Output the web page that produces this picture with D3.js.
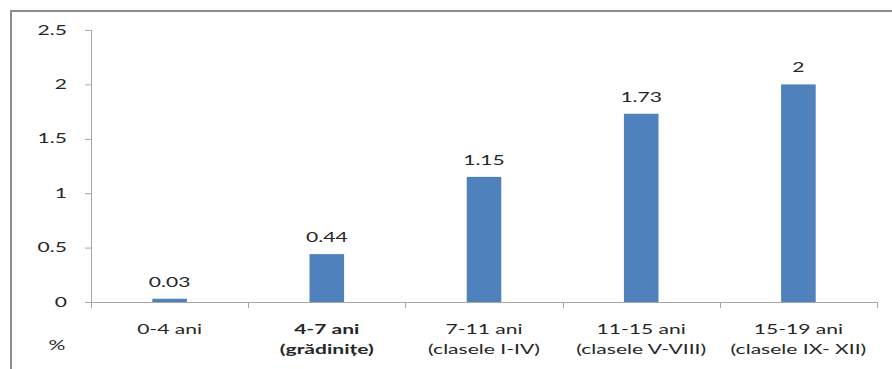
<!DOCTYPE html>
<html><head><meta charset="utf-8">
<script src="https://cdn.jsdelivr.net/npm/d3@7"></script>
<style>body{margin:0;background:#fff}svg{display:block}text{font-family:Lato,"Open Sans",sans-serif;fill:#262626}</style>
</head><body><svg id="c" width="892" height="369"></svg>
<script>
const categories = ["0-4 ani","4-7 ani","7-11 ani","11-15 ani","15-19 ani"];
const subLabels = ["","(grădinițe)","(clasele I-IV)","(clasele V-VIII)","(clasele IX- XII)"];
const boldCategory = [false,true,false,false,false];
const values = [0.03,0.44,1.15,1.73,2];
const valueLabels = ["0.03","0.44","1.15","1.73","2"];
const yTicks = [0,0.5,1,1.5,2,2.5];
const yTickLabels = ["0","0.5","1","1.5","2","2.5"];
const unitLabel = "%";

const SX = 1.62, FS = 13;
const svg = d3.select("#c");
function txt(g, x, y, s, anchor, bold){
  return g.append("text").attr("transform",`translate(${x},${y}) scale(${SX},1)`)
    .attr("text-anchor",anchor).attr("font-size",FS).attr("font-weight",bold?"bold":"normal").text(s);
}
// frame
svg.append("path").attr("d","M11,369 V11 H892").attr("fill","none").attr("stroke","#8c8c8c").attr("stroke-width",2);

const x = d3.scaleBand().domain(categories).range([91,877]).paddingInner(0.78).paddingOuter(0.39);
const y = d3.scaleLinear().domain([0,2.5]).range([302,30]);

// y axis
const ya = svg.append("g").attr("transform","translate(91,0)")
  .call(d3.axisLeft(y).tickValues(yTicks).tickFormat("").tickSize(6));
ya.select(".domain").attr("stroke","#a6a6a6").attr("d","M0.5,"+y(2.5)+"V"+y(0));
ya.selectAll(".tick line").attr("stroke","#a6a6a6");
yTicks.forEach((t,i)=>txt(svg, 67, y(t)+4.5, yTickLabels[i], "end", false));

// x axis line and ticks
const bounds = d3.range(categories.length+1).map(i=> i===0 ? 91 : (i===categories.length ? 877 : x(categories[i]) - x.step()*x.paddingInner()/2));
svg.append("line").attr("x1",91).attr("x2",877).attr("y1",302.5).attr("y2",302.5).attr("stroke","#a6a6a6");
svg.selectAll("line.xt").data(bounds).join("line").attr("class","xt")
  .attr("x1",d=>Math.round(d)+0.5).attr("x2",d=>Math.round(d)+0.5).attr("y1",302).attr("y2",308).attr("stroke","#a6a6a6");

// bars
svg.selectAll("rect.bar").data(values).join("rect").attr("class","bar")
  .attr("x",(d,i)=>x(categories[i])).attr("width",x.bandwidth())
  .attr("y",d=>y(d)).attr("height",d=>y(0)-y(d)).attr("fill","#4f81bd");

const cx = (i)=>x(categories[i])+x.bandwidth()/2;
// value labels
values.forEach((v,i)=>txt(svg, cx(i), y(v)-12, valueLabels[i], "middle", false));
// category labels
categories.forEach((c,i)=>{
  txt(svg, cx(i), 334, c, "middle", boldCategory[i]);
  if (subLabels[i]) txt(svg, cx(i), 354, subLabels[i], "middle", boldCategory[i]);
});
txt(svg, 57, 350, unitLabel, "middle", false);
</script></body></html>
